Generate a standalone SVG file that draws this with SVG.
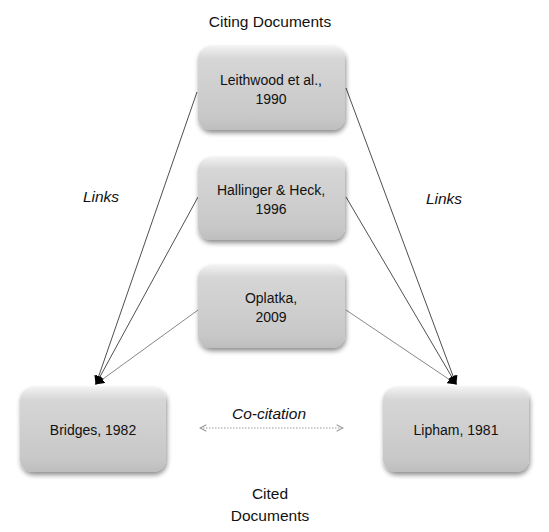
<svg xmlns="http://www.w3.org/2000/svg" width="549" height="532" viewBox="0 0 549 532">
<style>
.box{fill:url(#g);filter:url(#sh);}
.t{font-family:"Liberation Sans",Arial,sans-serif;font-size:14px;fill:#111;text-anchor:middle;}
.i{font-style:italic;font-size:15.5px;}
.h{font-size:15.5px;}
.ln{stroke:#222;stroke-width:0.8;fill:none;}
.lg{stroke:#888;stroke-width:1;fill:none;}
</style>
<defs>
<linearGradient id="g" x1="0" y1="0" x2="0" y2="1">
<stop offset="0" stop-color="#f2f2f2"/>
<stop offset="0.15" stop-color="#d6d6d6"/>
<stop offset="0.85" stop-color="#c8c8c8"/>
<stop offset="1" stop-color="#bdbdbd"/>
</linearGradient>
<filter id="sh" x="-10%" y="-10%" width="125%" height="130%">
<feGaussianBlur in="SourceAlpha" stdDeviation="2.5"/>
<feOffset dx="1" dy="3" result="b"/>
<feComponentTransfer><feFuncA type="linear" slope="0.45"/></feComponentTransfer>
<feMerge><feMergeNode/><feMergeNode in="SourceGraphic"/></feMerge>
</filter>
<marker id="ah" viewBox="0 0 10 10" refX="9" refY="5" markerWidth="9" markerHeight="9" markerUnits="userSpaceOnUse" orient="auto">
<path d="M0,0 L10,5 L0,10 z" fill="#000"/>
</marker>
<marker id="ch" viewBox="0 0 10 10" refX="9" refY="5" markerWidth="8" markerHeight="8" markerUnits="userSpaceOnUse" orient="auto-start-reverse">
<path d="M1,1 L9,5 L1,9" fill="none" stroke="#999" stroke-width="1.3"/>
</marker>
</defs>
<rect width="549" height="532" fill="#fff"/>
<g id="connectors">
<line class="ln" x1="197" y1="92" x2="96" y2="384" marker-end="url(#ah)"/>
<line class="ln" x1="198" y1="197" x2="96" y2="384" marker-end="url(#ah)"/>
<line class="lg" x1="198" y1="310" x2="96" y2="384" marker-end="url(#ah)"/>
<line class="ln" x1="346" y1="88" x2="456" y2="384" marker-end="url(#ah)"/>
<line class="ln" x1="346" y1="197" x2="456" y2="384" marker-end="url(#ah)"/>
<line class="lg" x1="346" y1="310" x2="456" y2="384" marker-end="url(#ah)"/>
<line x1="200" y1="428" x2="343" y2="428" stroke="#999" stroke-width="1.2" stroke-dasharray="1.5,1.5" marker-start="url(#ch)" marker-end="url(#ch)"/>
</g>
<g id="leithwood"><rect class="box" x="198" y="46" width="147" height="84" rx="13"/><text class="t" x="271" y="85">Leithwood et al.,</text><text class="t" x="271" y="104">1990</text></g>
<g id="hallinger"><rect class="box" x="198" y="157" width="147" height="83" rx="13"/><text class="t" x="271" y="195">Hallinger &amp; Heck,</text><text class="t" x="271" y="214">1996</text></g>
<g id="oplatka"><rect class="box" x="198" y="265" width="147" height="83" rx="13"/><text class="t" x="271" y="303">Oplatka,</text><text class="t" x="271" y="322">2009</text></g>
<g id="bridges"><rect class="box" x="20" y="387" width="146" height="85" rx="13"/><text class="t" x="93" y="435">Bridges, 1982</text></g>
<g id="lipham"><rect class="box" x="383" y="387" width="146" height="85" rx="13"/><text class="t" x="456" y="435">Lipham, 1981</text></g>
<g id="labels">
<text class="t h" x="270" y="27">Citing Documents</text>
<text class="t i" x="101" y="202">Links</text>
<text class="t i" x="444" y="204">Links</text>
<text class="t i" x="269" y="419">Co-citation</text>
<text class="t h" x="270" y="499">Cited</text>
<text class="t h" x="270" y="521">Documents</text>
</g>
</svg>
